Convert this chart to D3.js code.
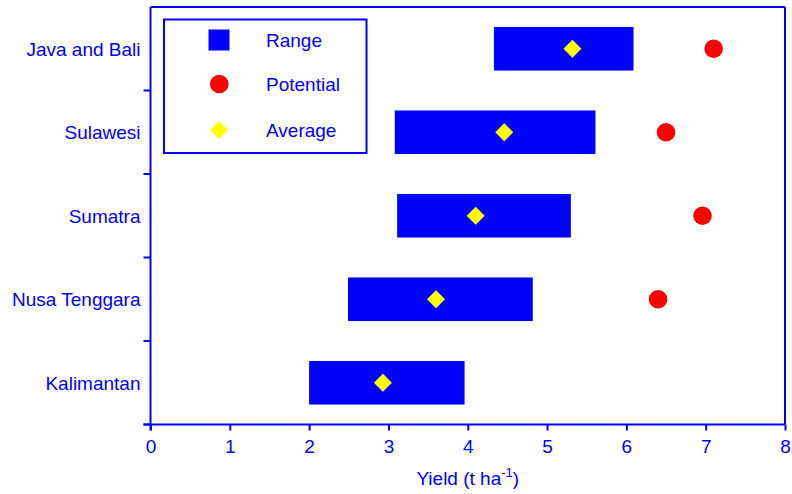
<!DOCTYPE html>
<html>
<head>
<meta charset="utf-8">
<script src="https://cdn.jsdelivr.net/npm/d3@7"></script>
<style>
  html, body { margin: 0; padding: 0; background: #fff; }
  svg { display: block; }
  text { font-family: "Liberation Sans", Arial, sans-serif; fill: #0000ff; }
</style>
</head>
<body>
<svg id="chart" width="792" height="494"></svg>
<script>
const regions = ["Java and Bali", "Sulawesi", "Sumatra", "Nusa Tenggara", "Kalimantan"];
const rangeLow = [4.33, 3.08, 3.11, 2.49, 2.00];
const rangeHigh = [6.09, 5.61, 5.30, 4.82, 3.96];
const average = [5.32, 4.46, 4.10, 3.60, 2.93];
const potential = [7.10, 6.50, 6.96, 6.40, null];
const xTicks = [0, 1, 2, 3, 4, 5, 6, 7, 8];
const legendLabels = ["Range", "Potential", "Average"];

(function () {
const blue = "#0000ff", red = "#ff0000", yellow = "#ffff00";
const fs = 19;

const svg = d3.select("#chart");
const pL = 150.5, pR = 785, pT = 7, pB = 424.5;

const x = d3.scaleLinear().domain([0, 8]).range([pL, pR]);
const y = d3.scaleBand().domain(regions).range([pT, pB]).padding(0);
const barH = y.bandwidth() * 0.522;
const cy = d => y(d) + y.bandwidth() / 2;

// frame (top & right)
svg.append("line").attr("x1", pL).attr("x2", pR).attr("y1", pT).attr("y2", pT)
  .attr("stroke", blue).attr("stroke-width", 2);
svg.append("line").attr("x1", pR).attr("x2", pR).attr("y1", pT).attr("y2", pB)
  .attr("stroke", blue).attr("stroke-width", 2);

// bars
const data = regions.map((r, i) => ({ r, lo: rangeLow[i], hi: rangeHigh[i], avg: average[i], pot: potential[i] }));
svg.append("g").selectAll("rect").data(data).join("rect")
  .attr("x", d => x(d.lo)).attr("width", d => x(d.hi) - x(d.lo))
  .attr("y", d => cy(d.r) - barH / 2).attr("height", barH)
  .attr("fill", blue);

// potential
svg.append("g").selectAll("circle").data(data.filter(d => d.pot != null)).join("circle")
  .attr("cx", d => x(d.pot)).attr("cy", d => cy(d.r)).attr("r", 9.3)
  .attr("fill", red);

// average diamonds
const diamond = s => `M0,${-s}L${s},0L0,${s}L${-s},0Z`;
svg.append("g").selectAll("path").data(data).join("path")
  .attr("d", diamond(9))
  .attr("transform", d => `translate(${x(d.avg)},${cy(d.r)})`)
  .attr("fill", yellow);

// x axis
const xAxis = svg.append("g").attr("transform", `translate(0,${pB})`)
  .call(d3.axisBottom(x).tickValues(xTicks).tickFormat(d3.format("d")).tickSize(6).tickPadding(9));
xAxis.select(".domain").attr("stroke", blue).attr("stroke-width", 2).attr("d", `M${pL - 7},0H${pR}`);
xAxis.selectAll(".tick line").attr("stroke", blue).attr("stroke-width", 2);
xAxis.selectAll(".tick text").attr("font-size", fs).attr("fill", blue)
  .attr("font-family", "Liberation Sans, Arial, sans-serif");

// y axis
const yBound = d3.scaleLinear().domain([0, 5]).range([pT, pB]);
const yAxisG = svg.append("g").attr("transform", `translate(${pL},0)`);
yAxisG.append("line").attr("x1", 0).attr("x2", 0).attr("y1", pT).attr("y2", pB + 6)
  .attr("stroke", blue).attr("stroke-width", 2);
yAxisG.selectAll("line.tk").data([1, 2, 3, 4, 5]).join("line").attr("class", "tk")
  .attr("x1", -7).attr("x2", 0).attr("y1", d => yBound(d)).attr("y2", d => yBound(d))
  .attr("stroke", blue).attr("stroke-width", 2);
yAxisG.selectAll("text").data(regions).join("text")
  .attr("x", -10).attr("y", d => cy(d) + 7)
  .attr("text-anchor", "end").attr("font-size", fs).text(d => d);

// x label
const xl = svg.append("text").attr("x", (pL + pR) / 2).attr("y", 485)
  .attr("text-anchor", "middle").attr("font-size", fs);
xl.append("tspan").text("Yield (t ha");
xl.append("tspan").attr("font-size", 13).attr("dy", -8).text("-1");
xl.append("tspan").attr("dy", 8).text(")");

// legend
const lg = svg.append("g");
lg.append("rect").attr("x", 164).attr("y", 19.5).attr("width", 202.5).attr("height", 133.5)
  .attr("fill", "#fff").attr("stroke", blue).attr("stroke-width", 2);
const rowY = [40, 84, 130];
lg.append("rect").attr("x", 208.5).attr("y", rowY[0] - 10.5).attr("width", 21).attr("height", 21).attr("fill", blue);
lg.append("circle").attr("cx", 219.3).attr("cy", rowY[1]).attr("r", 9.3).attr("fill", red);
lg.append("path").attr("d", diamond(9)).attr("transform", `translate(219,${rowY[2]})`).attr("fill", yellow);
lg.selectAll("text").data(legendLabels).join("text")
  .attr("x", 266).attr("y", (d, i) => rowY[i] + 7).attr("font-size", fs).text(d => d);
})();
</script>
</body>
</html>
